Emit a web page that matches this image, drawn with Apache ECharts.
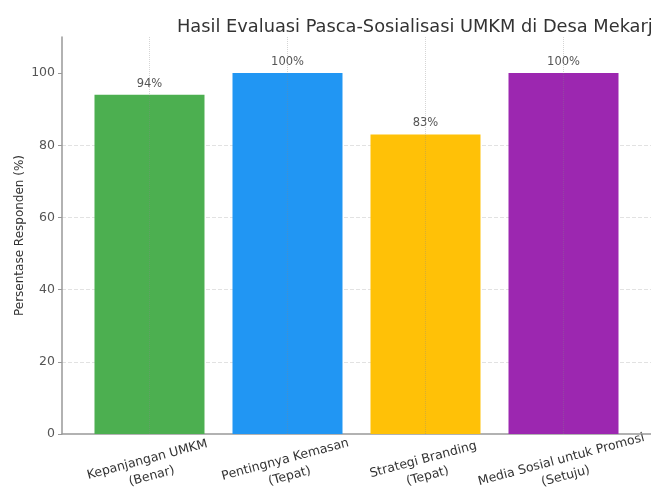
<!DOCTYPE html>
<html>
<head>
<meta charset="utf-8">
<script src="https://cdn.jsdelivr.net/npm/echarts@6/dist/echarts.min.js"></script>
<style>
html,body{margin:0;padding:0;background:#fff;}
#chart{width:651px;height:496px;}
</style>
</head>
<body>
<div id="chart"></div>
<script>
const titleText = 'Hasil Evaluasi Pasca-Sosialisasi UMKM di Desa Mekarjaya';
const categories = [
  'Kepanjangan UMKM\n(Benar)',
  'Pentingnya Kemasan\n(Tepat)',
  'Strategi Branding\n(Tepat)',
  'Media Sosial untuk Promosi\n(Setuju)'
];
const values = [94, 100, 83, 100];
const barColors = ['#4CAF50', '#2196F3', '#FFC107', '#9C27B0'];
const yTicks = [0, 20, 40, 60, 80, 100];
const positions = categories.map((c, i) => i);

const font = 'DejaVu Sans';
const chart = echarts.init(document.getElementById('chart'), null, {renderer: 'canvas'});
chart.setOption({
  animation: false,
  backgroundColor: '#fff',
  title: {
    text: titleText,
    left: 172,
    top: 13,
    textStyle: {fontFamily: font, fontSize: 17.8, fontWeight: 'normal', color: '#333'}
  },
  grid: {left: 62, right: 0, top: 37, bottom: 62, containLabel: false, outerBoundsMode: 'none'},
  xAxis: {
    type: 'value',
    min: -0.634,
    max: 3.634,
    axisLine: {show: true, onZero: false, lineStyle: {color: '#999', width: 1.5}},
    axisTick: {show: true, customValues: positions, length: 3, inside: true, lineStyle: {color: '#333'}},
    splitLine: {show: false},
    axisLabel: {
      customValues: positions,
      formatter: v => categories[Math.round(v)],
      rotate: 15,
      align: 'center',
      verticalAlign: 'middle',
      margin: 34,
      lineHeight: 17,
      fontFamily: font,
      fontSize: 12.5,
      color: '#333'
    }
  },
  yAxis: {
    type: 'value',
    min: 0,
    max: 110,
    interval: 20,
    name: 'Persentase Responden (%)',
    nameLocation: 'middle',
    nameGap: 36,
    nameMoveOverlap: false,
    nameTextStyle: {fontFamily: font, fontSize: 12, color: '#333'},
    axisLine: {show: true, onZero: false, lineStyle: {color: '#999', width: 1.5}},
    axisTick: {show: true, length: 4, customValues: yTicks, lineStyle: {color: '#999'}},
    axisLabel: {
      fontFamily: font, fontSize: 12.5, color: '#555', margin: 7,
      customValues: yTicks
    },
    splitLine: {show: true, showMaxLine: false, showMinLine: false, lineStyle: {color: '#e2e2e2', type: 'dashed', width: 1}}
  },
  series: [{
    type: 'bar',
    barWidth: 110,
    data: values.map((v, i) => ({value: [positions[i], v], itemStyle: {color: barColors[i]}})),
    label: {
      show: true,
      position: 'top',
      distance: 5,
      formatter: p => p.value[1] + '%',
      fontFamily: font,
      fontSize: 11.5,
      color: '#555'
    },
    markLine: {
      silent: true,
      symbol: ['none', 'none'],
      label: {show: false},
      lineStyle: {color: '#888', opacity: 0.35, type: 'dotted', width: 1},
      data: positions.map(p => ({xAxis: p}))
    }
  }]
});
</script>
</body>
</html>
